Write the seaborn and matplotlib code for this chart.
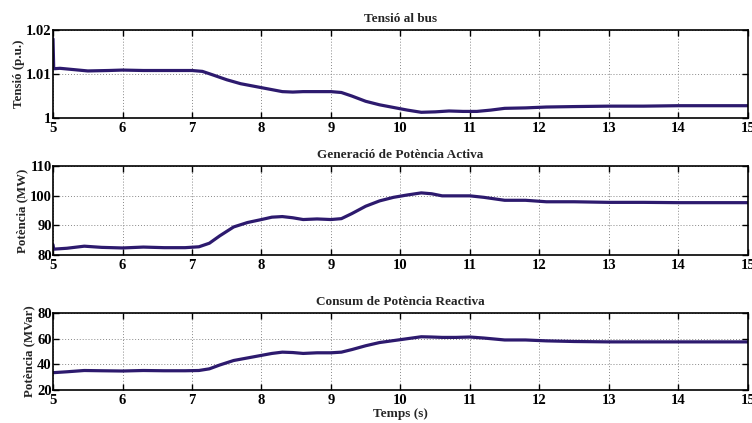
import matplotlib
matplotlib.use("Agg")
import matplotlib.pyplot as plt
import seaborn as sns
import pandas as pd

t_v = [5.0, 5.01, 5.1, 5.3, 5.5, 5.8, 6.0, 6.3, 6.6, 7.0, 7.15, 7.3, 7.5, 7.7, 7.9, 8.1, 8.3, 8.45, 8.6, 8.8, 9.0, 9.15, 9.3, 9.5, 9.7, 9.9, 10.1, 10.3, 10.5, 10.7, 10.9, 11.1, 11.3, 11.5, 11.8, 12.1, 12.5, 13.0, 13.5, 14.0, 14.5, 15.0]
v = [1.018, 1.0112, 1.0113, 1.0110, 1.0107, 1.0108, 1.0109, 1.0108, 1.0108, 1.0108, 1.0106, 1.0098, 1.0087, 1.0078, 1.0072, 1.0066, 1.0060, 1.0059, 1.0060, 1.0060, 1.0060, 1.0058, 1.0050, 1.0038, 1.0030, 1.0024, 1.0018, 1.0013, 1.0014, 1.0016, 1.0015, 1.0015, 1.0018, 1.0022, 1.0023, 1.0025, 1.0026, 1.0027, 1.0027, 1.0028, 1.0028, 1.0028]

t_p = [5.0, 5.01, 5.2, 5.45, 5.7, 6.0, 6.3, 6.6, 6.9, 7.1, 7.25, 7.4, 7.6, 7.8, 8.0, 8.15, 8.3, 8.45, 8.6, 8.8, 9.0, 9.15, 9.3, 9.5, 9.7, 9.9, 10.1, 10.3, 10.45, 10.6, 10.8, 11.0, 11.2, 11.5, 11.8, 12.1, 12.5, 13.0, 13.5, 14.0, 14.5, 15.0]
p = [83.5, 82.0, 82.3, 83.0, 82.6, 82.4, 82.7, 82.5, 82.5, 82.8, 84.0, 86.5, 89.5, 91.0, 92.0, 92.8, 93.0, 92.6, 92.0, 92.2, 92.0, 92.3, 94.0, 96.5, 98.3, 99.5, 100.3, 101.0, 100.7, 100.0, 100.0, 100.0, 99.5, 98.5, 98.5, 98.0, 98.0, 97.8, 97.8, 97.7, 97.7, 97.7]

t_q = [5.0, 5.2, 5.45, 5.7, 6.0, 6.3, 6.6, 6.9, 7.1, 7.25, 7.4, 7.6, 7.8, 8.0, 8.15, 8.3, 8.45, 8.6, 8.8, 9.0, 9.15, 9.3, 9.5, 9.7, 9.9, 10.1, 10.3, 10.45, 10.6, 10.8, 11.0, 11.2, 11.5, 11.8, 12.1, 12.5, 13.0, 13.5, 14.0, 14.5, 15.0]
q = [33.5, 34.2, 35.2, 35.0, 34.8, 35.2, 35.0, 35.0, 35.2, 36.5, 39.5, 43.0, 45.0, 47.0, 48.5, 49.5, 49.2, 48.5, 49.0, 49.0, 49.5, 51.5, 54.5, 57.0, 58.5, 60.0, 61.5, 61.3, 61.0, 61.0, 61.3, 60.5, 59.0, 59.0, 58.3, 57.8, 57.5, 57.5, 57.5, 57.5, 57.5]

titles = ["Tensió al bus", "Generació de Potència Activa", "Consum de Potència Reactiva"]
ylabels = ["Tensió (p.u.)", "Potència (MW)", "Potència (MVar)"]
xticks = [5, 6, 7, 8, 9, 10, 11, 12, 13, 14, 15]
yticks_list = [[1.0, 1.01, 1.02], [80, 90, 100, 110], [20, 40, 60, 80]]
ytick_labels = [["1", "1.01", "1.02"], ["80", "90", "100", "110"], ["20", "40", "60", "80"]]
ylims = [(1.0, 1.02), (80, 110), (20, 80)]
xlabel = "Temps (s)"

sns.set_theme(style="white")
plt.rcParams["font.family"] = ["Liberation Serif", "DejaVu Serif"]
plt.rcParams["font.weight"] = "bold"

fig = plt.figure(figsize=(7.52, 4.23), dpi=100)
positions = [
    [0.0705, 0.721, 0.924, 0.208],
    [0.0705, 0.397, 0.924, 0.210],
    [0.0705, 0.078, 0.924, 0.182],
]
series = [(t_v, v), (t_p, p), (t_q, q)]
color = "#2d1a6e"

for i, (pos, (tx, ty)) in enumerate(zip(positions, series)):
    ax = fig.add_axes(pos)
    df = pd.DataFrame({"t": tx, "y": ty})
    sns.lineplot(data=df, x="t", y="y", ax=ax, color=color, linewidth=2.3,
                 estimator=None, sort=False)
    ax.set_xlim(5, 15)
    ax.set_ylim(*ylims[i])
    ax.set_xticks(xticks)
    ax.set_xticklabels([str(x) for x in xticks], fontsize=10.5, fontweight="bold")
    ax.set_yticks(yticks_list[i])
    ax.set_yticklabels(ytick_labels[i], fontsize=10.5, fontweight="bold")
    ax.set_title(titles[i], fontsize=9.5, fontweight="bold", pad=6)
    ax.set_ylabel(ylabels[i], fontsize=9.3, fontweight="bold", labelpad=1)
    ax.set_xlabel(xlabel if i == 2 else "", fontsize=9.5, fontweight="bold", labelpad=0.5)
    ax.grid(True, linestyle=(0, (1, 2)), color="#888888", linewidth=0.7)
    ax.tick_params(direction="in", length=4, width=1, top=True, right=True,
                   bottom=True, left=True, colors="black")
    ax.tick_params(axis="x", pad=3)
    ax.tick_params(axis="y", pad=1)
    for s in ax.spines.values():
        s.set_color("black")
        s.set_linewidth(1.2)

fig.savefig("out.png", dpi=100, facecolor="white")
